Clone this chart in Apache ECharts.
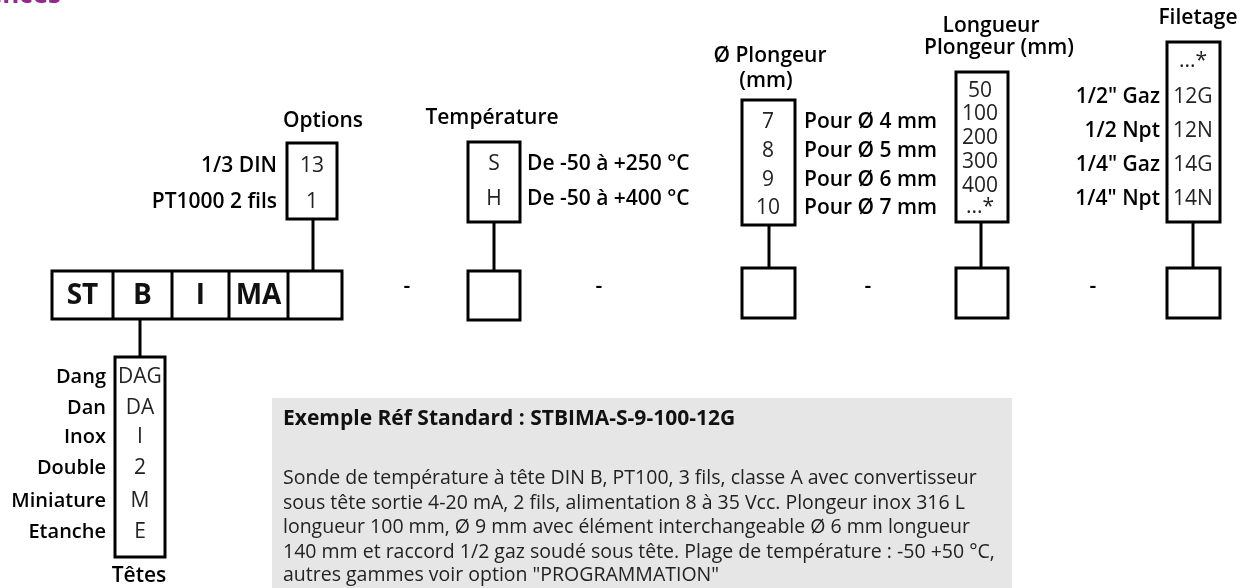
<!DOCTYPE html>
<html><head><meta charset="utf-8">
<script src="https://cdn.jsdelivr.net/npm/echarts@6/dist/echarts.min.js"></script>
<style>html,body{margin:0;padding:0;background:#fff}#c{width:1241px;height:588px}</style>
</head><body><div id="c"></div>
<script>
// ---------- DATA ----------
const pageTitle = 'Références';
const mainCodes = ['ST', 'B', 'I', 'MA', ''];
const optionTitle = ['Options'];
const optionCodes = ['13', '1'];
const optionLabels = ['1/3 DIN', 'PT1000 2 fils'];
const tempTitle = ['Température'];
const tempCodes = ['S', 'H'];
const tempLabels = ['De -50 à +250 °C', 'De -50 à +400 °C'];
const diaTitle = ['Ø Plongeur', '(mm)'];
const diaCodes = ['7', '8', '9', '10'];
const diaLabels = ['Pour Ø 4 mm', 'Pour Ø 5 mm', 'Pour Ø 6 mm', 'Pour Ø 7 mm'];
const lenTitle = ['Longueur', 'Plongeur (mm)'];
const lenCodes = ['50', '100', '200', '300', '400', '...*'];
const lenLabels = ['', '', '', '', '', ''];
const threadTitle = ['Filetage'];
const threadCodes = ['...*', '12G', '12N', '14G', '14N'];
const threadLabels = ['', '1/2" Gaz', '1/2 Npt', '1/4" Gaz', '1/4" Npt'];
const headTitle = ['Têtes'];
const headCodes = ['DAG', 'DA', 'I', '2', 'M', 'E'];
const headLabels = ['Dang', 'Dan', 'Inox', 'Double', 'Miniature', 'Etanche'];
const separators = ['-', '-', '-', '-'];
const exampleTitle = 'Exemple Réf Standard : STBIMA-S-9-100-12G';
const exampleLines = [
  'Sonde de température à tête DIN B, PT100, 3 fils, classe A avec convertisseur',
  'sous tête sortie 4-20 mA, 2 fils, alimentation 8 à 35 Vcc. Plongeur inox 316 L',
  'longueur 100 mm, Ø 9 mm avec élément interchangeable Ø 6 mm longueur',
  '140 mm et raccord 1/2 gaz soudé sous tête. Plage de température : -50 +50 °C,',
  'autres gammes voir option "PROGRAMMATION"'
];

// ---------- LAYOUT (positions in axis units) ----------
const FONT = '"Open Sans", "Noto Sans", sans-serif';
const LW = 3;
const SIZE = { title: 21, label: 21, headLabel: 20, code: 21, main: 28, sep: 21, exTitle: 21, exText: 19.5, page: 26 };
const L = {
  main: { y: 271, h: 48, cuts: [52, 113, 172, 229, 288, 342] },
  seps: [[407, 287], [599, 287], [868, 287], [1093, 287]],
  groups: [
    { title: optionTitle, titleAt: [[323, 121]], codes: optionCodes, labels: optionLabels, side: 'left', lsize: SIZE.label,
      box: [287, 143, 337, 219], rows: [166, 202], codeX: 312, labelX: 277, conn: [313, 219, 271], lower: null },
    { title: tempTitle, titleAt: [[492, 118]], codes: tempCodes, labels: tempLabels, side: 'right', lsize: SIZE.label,
      box: [468, 142, 520, 222], rows: [164, 199], codeX: 494, labelX: 527, conn: [494, 222, 271], lower: [468, 271, 520, 320] },
    { title: diaTitle, titleAt: [[770, 56], [766, 81]], codes: diaCodes, labels: diaLabels, side: 'right', lsize: SIZE.label,
      box: [742, 100, 795, 225], rows: [122, 151, 180, 208], codeX: 768, labelX: 804, conn: [769, 225, 268], lower: [742, 268, 795, 318] },
    { title: lenTitle, titleAt: [[991, 26], [999, 48]], codes: lenCodes, labels: lenLabels, side: 'right', lsize: SIZE.label,
      box: [956, 72, 1008, 222], rows: [91, 114, 138, 162, 186, 207], codeX: 980, labelX: 1015, conn: [981, 222, 268], lower: [956, 268, 1008, 318] },
    { title: threadTitle, titleAt: [[1198, 18]], codes: threadCodes, labels: threadLabels, side: 'left', lsize: SIZE.label,
      box: [1167, 42, 1220, 222], rows: [61, 97, 131, 165, 199], codeX: 1193, labelX: 1160, conn: [1193, 222, 268], lower: [1167, 268, 1220, 318] },
    { title: headTitle, titleAt: [[139, 576]], codes: headCodes, labels: headLabels, side: 'left', lsize: SIZE.headLabel,
      box: [115, 357, 165, 557], rows: [377, 408, 437, 468, 501, 532], codeX: 140, labelX: 106, conn: [140, 319, 357], lower: null }
  ],
  example: { x: 272, y: 398, x2: 1012, y2: 600, tx: 283, ty: 419, ly: [478, 503, 527, 552, 575] }
};

const chart = echarts.init(document.getElementById('c'), null, { renderer: 'canvas' });

function P(api, x, y) { return api.coord([x, y]); }
function rectEl(api, x1, y1, x2, y2, style) {
  const a = P(api, x1, y1), b = P(api, x2, y2);
  return { type: 'rect', shape: { x: a[0], y: a[1], width: b[0] - a[0], height: b[1] - a[1] }, style: style };
}
function lineEl(api, x1, y1, x2, y2) {
  const a = P(api, x1, y1), b = P(api, x2, y2);
  return { type: 'line', shape: { x1: a[0], y1: a[1], x2: b[0], y2: b[1] }, style: { stroke: '#000', lineWidth: LW } };
}
function textEl(api, x, y, text, opt) {
  const a = P(api, x, y);
  return { type: 'text', style: Object.assign({ x: a[0], y: a[1], text: text, fill: '#000', fontFamily: FONT,
    fontSize: 16, fontWeight: 600, align: 'center', verticalAlign: 'middle' }, opt || {}) };
}
const boxStyle = { fill: 'none', stroke: '#000', lineWidth: LW };

function renderItem(params, api) {
  const kind = api.value(0);
  const ch = [];
  if (kind === 0) { // main reference row
    const m = L.main;
    ch.push(rectEl(api, m.cuts[0], m.y, m.cuts[m.cuts.length - 1], m.y + m.h, boxStyle));
    for (let i = 1; i < m.cuts.length - 1; i++) ch.push(lineEl(api, m.cuts[i], m.y, m.cuts[i], m.y + m.h));
    mainCodes.forEach((c, i) => {
      ch.push(textEl(api, (m.cuts[i] + m.cuts[i + 1]) / 2, m.y + m.h / 2 + 1, c, { fontSize: SIZE.main, fontWeight: 700, fill: '#111' }));
    });
    separators.forEach((s, i) => ch.push(textEl(api, L.seps[i][0], L.seps[i][1], s, { fontSize: SIZE.sep, fontWeight: 600 })));
    ch.push(textEl(api, 61, -4, pageTitle, { align: 'right', fontSize: SIZE.page, fontWeight: 700, fill: '#93278f' }));
  } else if (kind === 1) { // option groups
    L.groups.forEach(g => {
      ch.push(rectEl(api, g.box[0], g.box[1], g.box[2], g.box[3], boxStyle));
      ch.push(lineEl(api, g.conn[0], g.conn[1], g.conn[0], g.conn[2]));
      if (g.lower) ch.push(rectEl(api, g.lower[0], g.lower[1], g.lower[2], g.lower[3], boxStyle));
      g.title.forEach((t, i) => ch.push(textEl(api, g.titleAt[i][0], g.titleAt[i][1], t, { fontSize: SIZE.title, fontWeight: 600 })));
      g.codes.forEach((c, i) => ch.push(textEl(api, g.codeX, g.rows[i], c, { fontSize: SIZE.code, fontWeight: 400, fill: '#222' })));
      g.labels.forEach((t, i) => {
        if (t) ch.push(textEl(api, g.labelX, g.rows[i], t, { align: g.side === 'left' ? 'right' : 'left', fontSize: g.lsize, fontWeight: 600 }));
      });
    });
  } else { // example box
    const e = L.example;
    ch.push(rectEl(api, e.x, e.y, e.x2, e.y2, { fill: '#e6e6e6', stroke: null }));
    ch.push(textEl(api, e.tx, e.ty, exampleTitle, { align: 'left', fontSize: SIZE.exTitle, fontWeight: 700, fill: '#111' }));
    exampleLines.forEach((t, i) => ch.push(textEl(api, e.tx, e.ly[i], t, { align: 'left', fontSize: SIZE.exText, fontWeight: 400, fill: '#222' })));
  }
  return { type: 'group', children: ch };
}

chart.setOption({
  animation: false,
  backgroundColor: '#fff',
  grid: { left: 0, right: 0, top: 0, bottom: 0 },
  xAxis: { type: 'value', min: 0, max: 1241, show: false },
  yAxis: { type: 'value', min: 0, max: 588, inverse: true, show: false },
  series: [{
    type: 'custom',
    coordinateSystem: 'cartesian2d',
    clip: false,
    renderItem: renderItem,
    data: [[2, 0], [1, 0], [0, 0]],
    silent: true
  }]
});
</script>
</body></html>
